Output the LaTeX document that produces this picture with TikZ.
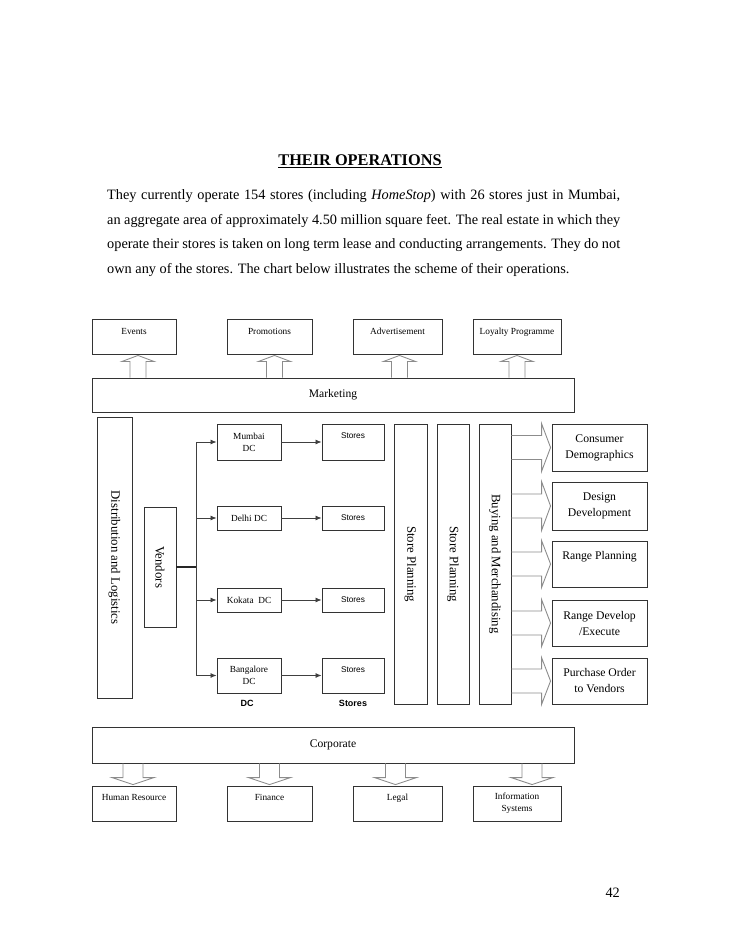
\documentclass[tikz,border=0pt]{standalone}
\usepackage{fontspec}
\setmainfont{Liberation Serif}
\setsansfont{Liberation Sans}
\usetikzlibrary{arrows.meta,calc}

\newcommand{\blockup}[3][0]{\draw[blockline] let \p1=(#2.north), \p2=(#3.south) in
  (\x2+#1-8,\y1) -- (\x2+#1-8,\y2-7) -- (\x2+#1-16,\y2-7) -- (\x2+#1,\y2-1) -- (\x2+#1+16,\y2-7) -- (\x2+#1+8,\y2-7) -- (\x2+#1+8,\y1);}
\newcommand{\blockdown}[3][0]{\draw[blockline] let \p1=(#2.south), \p2=(#3.north) in
  (\x2+#1-10,\y1) -- (\x2+#1-10,\y2+8) -- (\x2+#1-21,\y2+8) -- (\x2+#1,\y2+1) -- (\x2+#1+21,\y2+8) -- (\x2+#1+10,\y2+8) -- (\x2+#1+10,\y1);}
\newcommand{\blockright}[2]{\draw[blockline] let \p1=(#1), \p2=(#2.west), \p3=(#2.north) in
  (\x1,\y2+12) -- (\x2-10,\y2+12) -- (\x2-10,\y3) -- (\x2-1,\y2) -- (\x2-10,2*\y2-\y3) -- (\x2-10,\y2-12) -- (\x1,\y2-12);}

\begin{document}
\begin{tikzpicture}[x=1pt, y=-1pt,
  box/.style={rectangle, draw=black!80, line width=0.9pt, inner sep=0pt, align=center, font=\fontsize{9.3}{12}\selectfont},
  wide/.style={box, minimum width=482pt, font=\fontsize{11.6}{14}\selectfont},
  tall/.style={box, rotate=-90, font=\fontsize{12.8}{15}\selectfont},
  store/.style={box, minimum width=62pt, font=\sffamily\fontsize{8.3}{10}\selectfont},
  dc/.style={box, minimum width=64pt, font=\fontsize{9.3}{12}\selectfont},
  task/.style={box, minimum width=95pt, minimum height=46pt, font=\fontsize{11.7}{16}\selectfont},
  blockline/.style={draw=black!45, line width=0.9pt, line join=miter},
  flow/.style={draw=black!75, line width=0.8pt, -{Latex[length=6pt,width=5pt]}}]

\useasboundingbox (0,0) rectangle (728,942);

\node [font=\bfseries\fontsize{16.3}{20}\selectfont] (title) at (360,161) {\underline{THEIR OPERATIONS}};
\node [anchor=north west, inner sep=0pt, text width=513pt, align=justify, font=\fontsize{14.3}{24.6}\selectfont] (para) at (107,189.5) {They currently operate 154 stores (including \textit{HomeStop}) with 26 stores just in Mumbai,\linebreak an aggregate area of approximately 4.50 million square feet. The real estate in which they\linebreak operate their stores is taken on long term lease and conducting arrangements. They do not\linebreak own any of the stores. The chart below illustrates the scheme of their operations.};

\node [box, minimum width=84pt, minimum height=35pt, text depth=11pt] (events) at (134,336.5) {Events};
\node [box, minimum width=85pt, minimum height=35pt, text depth=11pt] (promotions) at (269.5,336.5) {Promotions};
\node [box, minimum width=89pt, minimum height=35pt, text depth=11pt] (advertisement) at (397.5,336.5) {Advertisement};
\node [box, minimum width=88pt, minimum height=35pt, text depth=11pt] (loyalty) at (517,336.5) {Loyalty Programme};
\node [wide, minimum height=34pt] (marketing) at (333,395) {Marketing};

\blockup[4]{marketing}{events}
\blockup[5]{marketing}{promotions}
\blockup[2]{marketing}{advertisement}
\blockup{marketing}{loyalty}

\node [tall, minimum width=281pt, minimum height=35pt] (distribution) at (114.5,557.5) {Distribution and Logistics};
\node [tall, minimum width=120pt, minimum height=32pt] (vendors) at (160,567) {Vendors};
\coordinate (junction) at (196,567);

\node [dc, minimum height=36pt] (mumbai) at (249,442) {Mumbai\\DC};
\node [dc, minimum height=24pt] (delhi) at (249,518) {Delhi DC};
\node [dc, minimum height=24pt] (kolkata) at (249,600) {Kokata~~DC};
\node [dc, minimum height=35pt] (bangalore) at (249,675.5) {Bangalore\\DC};

\node [store, minimum height=36pt, text depth=12pt] (mumbaistores) at (353,442) {Stores};
\node [store, minimum height=24pt] (delhistores) at (353,518) {Stores};
\node [store, minimum height=24pt] (kolkatastores) at (353,600) {Stores};
\node [store, minimum height=35pt, text depth=12pt] (bangalorestores) at (353,675.5) {Stores};

\node [font=\sffamily\bfseries\fontsize{9}{11}\selectfont] (dclabel) at (247,703) {DC};
\node [font=\sffamily\bfseries\fontsize{9}{11}\selectfont] (storeslabel) at (353,703) {Stores};

\draw [black!85, line width=1.5pt] (vendors) -- (junction);
\draw [black!75, line width=0.8pt] (junction |- mumbai.west) -- (junction |- bangalore.west);
\draw [flow] (junction |- mumbai.west) -- (mumbai.west);
\draw [flow] (junction |- delhi.west) -- (delhi.west);
\draw [flow] (junction |- kolkata.west) -- (kolkata.west);
\draw [flow] (junction |- bangalore.west) -- (bangalore.west);

\draw [flow] (mumbai) -- (mumbaistores);
\draw [flow] (delhi) -- (delhistores);
\draw [flow] (kolkata) -- (kolkatastores);
\draw [flow] (bangalore) -- (bangalorestores);

\node [tall, minimum width=280pt, minimum height=33pt] (storeplanning) at (410.5,564) {Store Planning};
\node [tall, minimum width=280pt, minimum height=32pt] (storeplanningtwo) at (453,564) {Store Planning};
\node [tall, minimum width=280pt, minimum height=32pt] (buying) at (495,564) {Buying and Merchandising};

\node [task, minimum height=47pt] (consumer) at (599.5,447.5) {Consumer\\Demographics};
\node [task, minimum height=48pt] (design) at (599.5,506) {Design\\Development};
\node [task, text depth=18pt] (rangeplanning) at (599.5,564) {Range Planning};
\node [task] (rangedevelop) at (599.5,623) {Range Develop\\/Execute};
\node [task] (purchase) at (599.5,681) {Purchase Order\\to Vendors};

\blockright{buying.north |- consumer}{consumer}
\blockright{buying.north |- design}{design}
\blockright{buying.north |- rangeplanning}{rangeplanning}
\blockright{buying.north |- rangedevelop}{rangedevelop}
\blockright{buying.north |- purchase}{purchase}

\node [wide, minimum height=36pt] (corporate) at (333,745) {Corporate};

\node [box, minimum width=84pt, minimum height=35pt, text depth=13pt] (hr) at (134,803.5) {Human Resource};
\node [box, minimum width=85pt, minimum height=35pt, text depth=13pt] (finance) at (269.5,803.5) {Finance};
\node [box, minimum width=89pt, minimum height=35pt, text depth=13pt] (legal) at (397.5,803.5) {Legal};
\node [box, minimum width=88pt, minimum height=35pt] (infosys) at (517,803.5) {Information\\Systems};

\blockdown[-1]{corporate}{hr}
\blockdown{corporate}{finance}
\blockdown[-2]{corporate}{legal}
\blockdown[15]{corporate}{infosys}

\node [anchor=base east, inner sep=0pt, font=\fontsize{14.3}{17}\selectfont] (pagenumber) at (620,897) {42};

\end{tikzpicture}
\end{document}
